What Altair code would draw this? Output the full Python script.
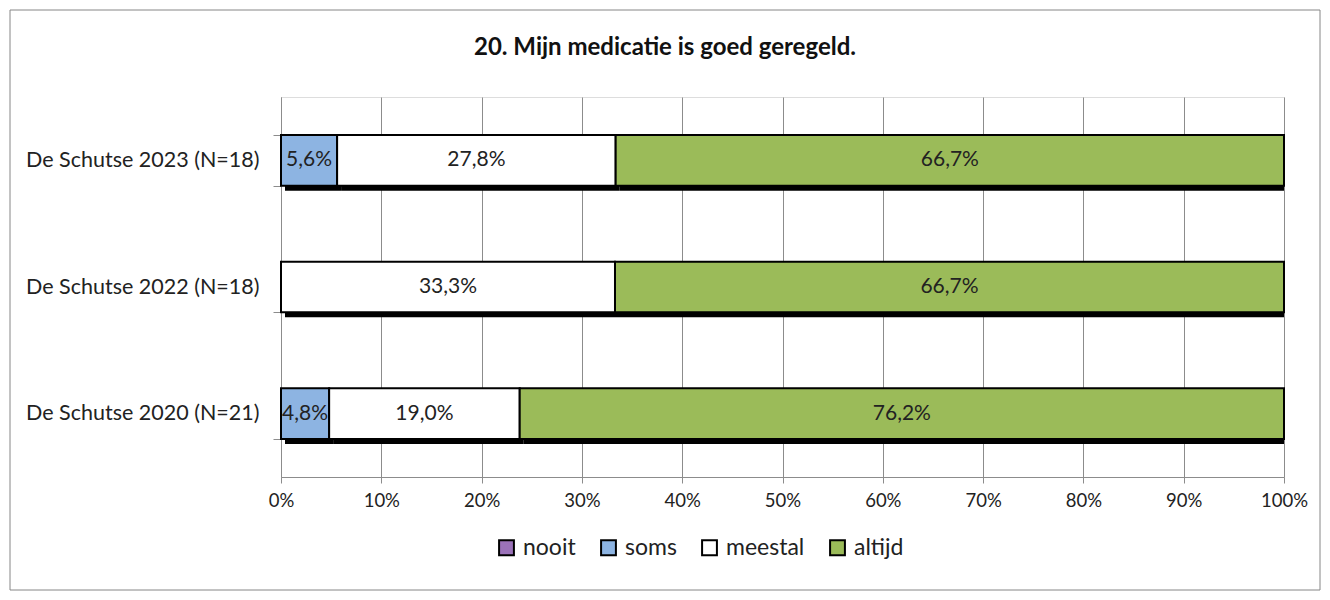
import altair as alt
import pandas as pd

title_text = "20. Mijn medicatie is goed geregeld."
categories = ["De Schutse 2023 (N=18)", "De Schutse 2022 (N=18)", "De Schutse 2020 (N=21)"]
answers = ["nooit", "soms", "meestal", "altijd"]
colors = ["#9B72B9", "#8DB4E2", "#FFFFFF", "#9BBB59"]
nooit = [0.0, 0.0, 0.0]
soms = [5.6, 0.0, 4.8]
meestal = [27.8, 33.3, 19.0]
altijd = [66.7, 66.7, 76.2]

rows = []
for i, cat in enumerate(categories):
    for j, (ans, vals) in enumerate(zip(answers, [nooit, soms, meestal, altijd])):
        v = vals[i]
        rows.append({"cat": cat, "ans": ans, "order": j, "val": v,
                     "label": f"{v:.1f}%".replace(".", ",")})
df = pd.DataFrame(rows)

FONT = "Lato"
GRID = "#8C8C8C"
TXT = "#222222"

base = alt.Chart(df).transform_filter("datum.val > 0").transform_stack(
    stack="val", groupby=["cat"], sort=[alt.SortField("order")],
    as_=["x0", "x1"], offset="normalize"
).transform_calculate(mid="(datum.x0 + datum.x1) / 2")

yenc = alt.Y("cat:N", sort=categories, title=None,
             scale=alt.Scale(paddingInner=0.6, paddingOuter=0.3),
             axis=alt.Axis(tickBand="extent", grid=False, domainColor=GRID, tickColor=GRID,
                           tickSize=8, labelPadding=14, labelFont=FONT, labelFontSize=21.5,
                           labelColor=TXT, labelLimit=0))
xscale = alt.Scale(domain=[0, 1], nice=False)
xaxis = alt.Axis(values=[i / 10 for i in range(11)], format=".0%", grid=True, gridColor=GRID,
                 domainColor=GRID, tickColor=GRID, tickSize=6, labelPadding=8, labelFlush=False,
                 labelFont=FONT, labelFontSize=18.5, labelColor=TXT, title=None)

shadow = base.mark_bar(color="black", xOffset=4, x2Offset=4, yOffset=5, clip=True).encode(
    x=alt.X("x0:Q", scale=xscale, axis=xaxis), x2="x1:Q", y=yenc)

bars = base.mark_bar(stroke="black", strokeWidth=2).encode(
    x=alt.X("x0:Q", scale=xscale, axis=xaxis), x2="x1:Q", y=yenc,
    color=alt.Color("ans:N", scale=alt.Scale(domain=answers, range=colors), title=None,
                    legend=alt.Legend(orient="none", direction="horizontal", legendX=214, legendY=439,
                                      symbolType="square", symbolSize=220, symbolStrokeColor="black",
                                      symbolStrokeWidth=2, symbolOpacity=1, labelFont=FONT,
                                      labelFontSize=23, labelColor=TXT, columnPadding=21,
                                      labelOffset=5)))

texts = base.mark_text(font=FONT, fontSize=21, color=TXT).encode(
    x=alt.X("mid:Q", scale=xscale), y=yenc, text="label:N")

frame = alt.Chart(pd.DataFrame({"a": [0]})).mark_rect(
    fill=None, stroke="#868686", strokeWidth=1, clip=False).encode(
    x=alt.value(-271), x2=alt.value(1039), y=alt.value(-87), y2=alt.value(493))

title = alt.Chart(pd.DataFrame({"t": [title_text]})).mark_text(
    font=FONT, fontSize=24, fontWeight="bold", color="#111111", align="center",
    baseline="middle", clip=False).encode(
    text="t:N", x=alt.value(384), y=alt.value(-49))

chart = alt.layer(shadow, bars, texts, frame, title).properties(
    width=1003, height=380,
    autosize=alt.AutoSizeParams(type="none"),
    padding={"left": 273, "top": 89, "right": 38, "bottom": 115},
).configure_view(stroke=None).configure(background="white")

chart.save("out.html", embed_options={"renderer": "svg", "actions": False})
